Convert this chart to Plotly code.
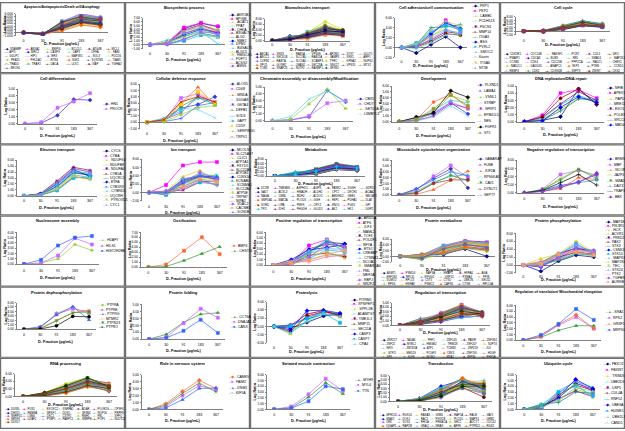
import plotly.graph_objects as go

X_LABELS = ["0", "30", "91", "183", "367"]

# ---------------- data ----------------
P01_GENES = ["STAMBP", "ANXA1", "BNIP3L", "BCL2L1", "ATG4B", "MCL1", "API5", "BIRC2", "CASP9", "DAP3",
             "DFFA", "FAIM", "GULP1", "HIP1", "IER3", "MAP3K5", "NOL3", "PDCD6", "PEA15", "PHLDA1",
             "RTN4", "SGK1", "SQSTM1", "TIAM1", "TRADD", "TRAF2", "UACA", "ULK1", "XIAP", "YWHAZ", "BECN1"]
P01_VALUES = [[0, -0.5, 2.2, 3.0, 2.5], [0, -0.6, 3.5, 6.1, 4.8], [0, -0.4, 2.8, 4.5, 4.0], [0, -0.7, 1.8, 4.0, 3.2],
              [0, -0.3, 3.0, 5.0, 4.2], [0, -0.5, 1.2, 3.5, 2.8], [0, -0.6, 2.5, 4.8, 3.6], [0, -0.8, 1.5, 3.2, 2.2],
              [0, -0.4, 3.2, 5.4, 4.5], [0, -0.5, 2.0, 3.8, 3.0], [0, -0.3, 2.6, 4.2, 3.8], [0, -0.6, 0.8, 2.6, 1.9],
              [0, -0.7, 3.8, 5.8, 5.0], [0, -0.2, 2.3, 4.4, 3.4], [0, -0.5, 1.0, 3.0, 3.1], [0, -0.6, 2.9, 4.9, 4.1],
              [0, -0.4, 1.6, 3.6, 2.6], [0, -0.5, 2.4, 4.6, 3.9], [0, -0.7, 3.3, 5.2, 4.4], [0, -0.3, 1.4, 2.9, 2.3],
              [0, -0.6, 2.7, 4.1, 3.5], [0, -0.5, 0.6, 2.4, 1.7], [0, -0.4, 3.1, 5.6, 4.6], [0, -0.8, 2.1, 3.9, 3.3],
              [0, -0.5, 1.9, 4.3, 3.7], [0, -0.6, 2.5, 4.0, 2.9], [0, -0.3, 1.3, 3.3, 2.7], [0, -0.5, 3.4, 5.1, 4.0],
              [0, -0.6, 1.7, 3.4, 2.4], [0, -0.4, 2.2, 4.7, 4.3], [0, -0.5, 2.0, 3.7, 3.1]]

P02_GENES = ["AKR1B1", "BPGM", "ACAT1", "PPAT", "CHKA", "B3GALT6", "ALG2", "NME1", "DPM1", "B4GALT1",
             "ALG13", "HMGCS1", "FDFT1", "ACSS2", "ASNS"]
P02_VALUES = [[0, 0.3, 4.2, 5.6, 4.7], [0, 0.5, 4.5, 5.7, 4.8], [0, 0.2, 3.3, 5.0, 4.0], [0, 1.2, 2.0, 3.5, 0.2],
              [0, 0.4, 3.8, 5.2, 3.6], [0, 0.3, 2.9, 4.3, 3.2], [0, 0.1, 1.5, 3.0, 2.2], [0, 0.6, 2.5, 4.0, 3.0],
              [0, 0.2, 1.0, 2.5, 2.0], [0, 0.4, 3.5, 4.6, 3.8], [0, 0.3, 2.2, 3.7, 2.6], [0, 0.8, 1.8, 2.8, 1.8],
              [0, 0.2, 3.0, 4.4, 2.4], [0, 0.5, 3.6, 5.1, 3.4], [0, 0.1, 1.3, 3.3, 2.9]]

P03_GENES = ["ABCA1", "SNX3", "RAB5A", "VPS4B", "AP2M1", "STX7", "GLUT1", "ABCC1", "SEC61B", "SLC7A5", "RAB11A",
             "VAMP3", "SNX1", "ARF1", "COPB1", "RAB7A", "SLC3A2", "SCAMP3", "TFRC", "KPNA2", "NUP62", "XPO1",
             "GOSR2", "LMAN2", "SEC23A", "SNX27", "VPS35", "MTX2", "TOM1", "SNAP23", "NUTF2", "RANBP1", "SFXN1"]
P03_VALUES = [[0, 1.6, 2.0, 3.0, 2.8], [0, 0.5, 1.5, 3.5, 3.0], [0, 0.3, 3.0, 7.0, 4.0], [0, 1.0, 2.2, 4.0, 3.3],
              [0, 0.2, 1.2, 2.4, 2.0], [0, 0.8, 1.8, 5.0, 3.6], [0, 0.4, 2.6, 4.4, 3.8], [0, 1.2, 1.0, 2.2, 3.0],
              [0, 0.6, 3.2, 5.5, 3.1], [0, 0.3, 2.0, 3.8, 3.4], [0, 0.9, 1.4, 3.2, 2.5], [0, 0.2, 2.8, 4.8, 3.9],
              [0, 0.7, 1.6, 2.8, 2.2], [0, 0.4, 2.4, 4.2, 3.5], [0, 1.4, 2.1, 3.6, 3.2], [0, 0.1, 0.6, 2.1, 1.6],
              [0, 0.5, 2.9, 4.6, 3.7], [0, 0.8, 1.9, 3.3, 2.9], [0, 0.3, 3.1, 5.8, 3.8], [0, 1.1, 2.3, 3.9, 2.7],
              [0, 0.6, 1.1, 2.6, 2.3], [0, 0.2, 2.5, 4.5, 3.6], [0, 0.9, 1.7, 3.1, 3.0], [0, 0.4, 2.7, 4.1, 3.3],
              [0, 0.7, 1.3, 2.9, 2.4], [0, 1.5, 2.2, 3.4, 2.6], [0, 0.3, 2.0, 4.3, 3.9], [0, 0.5, 1.5, 3.7, 3.1],
              [0, 0.8, 2.6, 5.2, 3.5], [0, 0.2, 1.8, 3.0, 2.1], [0, 1.0, 2.4, 4.7, 3.4], [0, 0.6, 1.2, 2.5, 1.8],
              [0, 0.4, 2.1, 3.6, 3.2]]

P04_GENES = ["PKP1", "PKP2", "LAMB1", "PCDH11X", "FSCN1", "MMP14", "ITGA3", "BSG", "PVRL2", "SMOC2",
             "Kazrin", "ITGA6", "NT5E"]
P04_VALUES = [[0, -1.1, 0.6, 2.2, 0.0], [0, 0.2, 2.5, 5.5, 3.2], [0, 0.5, 2.0, 4.6, 3.5], [0, 0.8, 3.0, 4.8, 4.2],
              [0, 0.3, 1.5, 3.2, 2.8], [0, 0.1, 1.2, 2.8, 2.5], [0, 0.6, 4.0, 4.2, 4.6], [0, 0.4, 2.8, 5.0, 3.8],
              [0, 0.9, 3.3, 4.5, 3.6], [0, -0.2, 1.0, 2.5, 2.9], [0, 0.5, 2.3, 3.8, 2.4], [0, 0.7, 3.5, 5.3, 4.4],
              [0, 0.2, 1.8, 3.5, 3.0]]

P05_GENES = ["CDK5R1", "CDC14B", "RASSF1", "PCNT", "CUL3", "GFI1", "PMAIP1", "CDCA3", "BUB3", "RB1",
             "SMAD4", "MAP2K1", "CCNB1", "CDK4", "CDC25B", "PPP2CA", "RAD21", "CHEK1", "MAD2L1", "GADD45",
             "ANAPC5", "SKP1", "PTEN", "CCND1", "RBBP4", "CDK2", "CDKN1B", "SEPT9", "ZWINT", "CKS2"]
P05_VALUES = [[0, 0.2, 2.0, 4.5, 3.5], [0, -0.3, 1.5, 3.8, 3.0], [0, 0.1, 2.5, 5.0, 4.0], [0, -0.2, 1.0, 3.2, 2.5],
              [0, 0.3, 2.8, 5.5, 3.8], [0, -0.4, 1.8, 4.2, 3.2], [0, 0.0, 3.2, 5.8, 4.2], [0, -0.1, 1.2, 3.5, 2.2],
              [0, 0.2, 2.2, 4.8, 3.6], [0, -0.3, 1.6, 3.0, 2.8], [0, 0.1, 2.6, 4.4, 3.3], [0, -0.2, 0.9, 3.6, 2.6],
              [0, 0.4, 3.0, 5.2, 4.1], [0, -0.1, 1.9, 4.0, 3.0], [0, 0.0, 1.4, 3.3, 2.4], [0, 0.2, 2.4, 4.6, 3.9],
              [0, -0.4, 1.1, 3.1, 2.0], [0, 0.1, 2.9, 5.4, 3.7], [0, -0.2, 1.7, 3.9, 3.4], [0, 0.3, 2.1, 4.1, 2.9],
              [0, -0.1, 1.3, 3.4, 2.7], [0, 0.0, 2.7, 4.9, 3.5], [0, 0.2, 1.5, 3.7, 3.1], [0, -0.3, 2.3, 4.3, 3.8],
              [0, 0.1, 0.8, 3.0, 2.3], [0, -0.2, 2.0, 4.7, 4.0], [0, 0.0, 1.6, 3.5, 2.6], [0, 0.2, 2.5, 5.1, 3.2],
              [0, -0.1, 1.9, 3.8, 2.8], [0, 0.1, 1.2, 3.2, 2.5]]

P06_GENES = ["HN1", "PROCR"]
P06_VALUES = [[0, 0.1, 1.2, 3.5, 3.4], [0, 0.2, 2.3, 3.2, 4.4]]

P07_GENES = ["ALOX5", "CD68", "MNDA", "S100A8", "GSTA4", "DEFB1", "SOD3", "GAPT", "CD59", "SERPING1", "TRPV1"]
P07_VALUES = [[0, 0.3, 2.2, 2.8, 4.0], [0, 0.2, 3.8, 4.5, 3.0], [0, 0.6, 3.0, 5.5, 2.7], [0, 0.7, 2.2, 2.0, 0.7],
              [0, 0.4, 1.5, 4.2, 3.2], [0, 0.2, 2.5, 3.9, 2.8], [0, 0.1, 0.6, 2.6, 3.1], [0, 0.5, 1.8, 3.8, 2.9],
              [0, 0.3, 2.8, 4.8, 3.0], [0, 0.1, 1.2, 2.3, 2.6], [0, 0.4, 3.2, 4.0, 3.2]]

P08_GENES = ["CBX5", "CHD7", "SETD1A", "L3MBTL3"]
P08_VALUES = [[0, 0.1, 0.6, 4.5, 2.8], [0, 0.1, 0.7, 2.6, 3.0], [0, 0.2, 2.5, 4.7, 1.8], [0, 0.6, 3.2, 4.4, 2.8]]

P09_GENES = ["PLXND1", "LAMA4", "VSNL1", "STRBP", "SFRP1", "EPB41L5", "NES", "FGFR1", "ST5"]
P09_VALUES = [[0, 0.6, 1.3, 3.2, 1.3], [0, 0.3, 1.5, 3.3, 2.2], [0, 0.2, 1.6, 4.4, 3.5], [0, 0.1, 0.8, 2.7, 1.0],
              [0, 0.2, 1.0, 3.0, 2.3], [0, 0.3, 3.3, 4.6, 2.4], [0, 0.1, 2.0, 3.6, 3.2], [0, 0.8, 1.5, 5.2, 4.1],
              [0, 0.4, 2.2, 4.5, 2.7]]

P10_GENES = ["NFIB", "APEX1", "PAPD7", "MRE11A", "EXO1", "POLE3", "XRCC6", "MBD4"]
P10_VALUES = [[0, 0.2, 0.7, 4.6, 2.4], [0, 0.9, 4.0, 4.5, 3.3], [0, 0.3, 1.8, 3.3, 2.9], [0, 0.4, 2.4, 3.7, 2.8],
              [0, 0.6, 2.5, 4.2, 3.0], [0, 0.7, 3.3, 4.6, 2.5], [0, 0.2, 1.5, 3.2, 3.1], [0, 0.1, 2.0, 3.5, 2.7]]

P11_GENES = ["CYCS", "CYBA", "NDUFS3", "NDUFB8", "NDUFA4", "CYB5A", "UQCRC1", "ETFA", "CYB5R3", "CYBRD1",
             "UQCRH", "PYROXD1", "CYC1"]
P11_VALUES = [[0, 0.2, 1.5, 4.0, 3.4], [0, 0.3, 2.2, 4.6, 4.0], [0, 0.1, 1.2, 3.5, 3.1], [0, 0.2, 1.8, 4.2, 3.8],
              [0, 0.4, 2.5, 4.8, 4.3], [0, 0.1, 1.0, 3.2, 2.9], [0, 0.2, 1.6, 3.8, 3.6], [0, 0.3, 2.0, 4.4, 3.3],
              [0, 0.1, 0.9, 3.0, 3.2], [0, 0.2, 1.4, 3.6, 3.0], [0, 0.3, 2.3, 4.5, 4.1], [0, 0.1, 1.1, 3.3, 2.7],
              [0, 0.2, 1.9, 4.1, 3.7]]

P12_GENES = ["MCOLN1", "SLC25A37", "CLIC1", "ATP1A1", "FXYD5", "SLC22A3", "ATP2B1", "CLNS1A", "KCNAB2",
             "KCNMA1", "SLC12A2", "ATP5B", "TRPM7", "NIPA2", "VDAC2", "CACNB3", "SCN1B"]
P12_VALUES = [[0, 0.1, 2.8, 4.0, 3.1], [0, 1.8, 6.5, 7.3, 7.3], [0, 0.3, 3.8, 5.3, 2.6], [0, -0.3, 2.2, 3.5, 4.3],
              [0, 0.2, 0.6, 2.5, 2.8], [0, -0.5, 2.5, 3.8, 3.3], [0, 0.0, 1.5, 3.0, 1.8], [0, 0.1, 3.1, 4.1, 3.6],
              [0, -0.6, 1.2, 2.4, 2.0], [0, 0.3, 2.0, 3.2, 2.3], [0, 0.0, 2.7, 4.4, 4.0], [0, 0.2, 1.8, 3.6, 2.9],
              [0, -0.2, 3.3, 4.0, 3.0], [0, 0.1, 1.0, 2.8, 1.7], [0, 0.4, 2.4, 4.8, 3.4], [0, -0.1, 1.4, 3.3, 2.5],
              [0, 0.0, 2.2, 3.9, 3.8]]

P13_GENES = ["DCXR", "TMEM68", "ASPHD1", "AGPS", "PANK2", "SGSH", "GDPD1", "GALT", "ACSL3", "HIBADH", "ALDH2",
             "CPT2", "DECR1", "ACAA2", "NAGA", "CMBL", "MDH2", "ALDOC", "AMDHD2", "GBE1", "MBOAT1", "GNPDA1",
             "MAT2A", "PLOD3", "GGH", "FBP1", "PDHA1", "DLAT", "SORD", "LIPA", "PMVK", "CRYZ", "ENO1", "PGK1",
             "GPI", "TPI1", "IDH1", "PHGDH", "GLUD1", "AK2", "HK1", "UGP2"]
P13_VALUES = [[0, 0.5, 1.8, 4.5, 3.2], [0, 1.2, 2.5, 5.2, 3.8], [0, 0.3, 1.0, 3.5, 3.0], [0, 0.8, 2.8, 5.8, 4.2],
              [0, 0.2, 1.5, 4.0, 2.8], [0, 1.5, 2.2, 4.8, 3.5], [0, 0.4, 3.2, 5.5, 4.0], [0, 0.9, 1.2, 3.2, 2.6],
              [0, 0.1, 2.0, 4.2, 3.3], [0, 2.0, 2.6, 4.6, 3.9], [0, 0.6, 1.6, 3.8, 3.1], [0, 0.3, 3.5, 6.0, 4.5],
              [0, 1.1, 2.3, 4.4, 3.6], [0, 0.2, 0.8, 3.0, 2.5], [0, 0.7, 1.9, 5.0, 3.4], [0, 1.6, 2.9, 5.3, 4.1],
              [0, 0.4, 1.4, 3.6, 2.9], [0, 0.9, 2.4, 4.3, 3.7], [0, 0.2, 3.0, 5.6, 3.8], [0, 1.3, 1.7, 3.9, 3.2],
              [0, 0.5, 2.1, 4.7, 4.3], [0, 0.8, 1.1, 3.3, 2.7], [0, 0.1, 2.7, 5.1, 3.6], [0, 1.8, 2.2, 4.1, 3.0],
              [0, 0.6, 3.3, 5.4, 4.4], [0, 0.3, 1.3, 3.4, 3.1], [0, 1.0, 2.6, 4.9, 3.5], [0, 0.4, 1.8, 4.0, 2.8],
              [0, 1.4, 2.0, 3.7, 3.3], [0, 0.2, 3.1, 5.7, 4.0], [0, 0.7, 1.5, 3.9, 3.4], [0, 1.1, 2.4, 4.5, 3.9],
              [0, 0.3, 0.9, 3.1, 2.6], [0, 0.9, 2.8, 5.2, 4.2], [0, 0.5, 1.6, 3.5, 3.0], [0, 1.7, 2.5, 4.2, 3.7],
              [0, 0.2, 2.2, 4.8, 3.3], [0, 0.6, 1.2, 3.6, 2.9], [0, 1.2, 3.4, 5.9, 4.6], [0, 0.4, 1.9, 4.1, 3.2],
              [0, 0.8, 2.3, 4.6, 3.8], [0, 0.1, 1.0, 3.2, 2.7]]

P14_GENES = ["GABARAP", "FLNB", "KIF2A", "RPS6KA3", "CAV1", "DYNLT1", "SEPT7"]
P14_VALUES = [[0, 1.0, 2.9, 4.5, 1.2], [0, 0.8, 3.2, 5.1, 3.0], [0, 0.1, 0.9, 2.5, 4.1], [0, 0.6, 2.2, 3.2, 3.5],
              [0, 0.4, 2.0, 3.4, 2.5], [0, 0.3, 2.0, 2.6, 2.6], [0, 1.0, 2.6, 4.0, 3.3]]

P15_GENES = ["BRMS1", "MBP", "NCOR2", "JAZF1", "SMAD7", "DAXX", "TRAF3", "BBX"]
P15_VALUES = [[0, 0.6, 1.8, 2.6, 4.8], [0, 0.9, 4.5, 5.5, 4.3], [0, 0.4, 1.0, 3.7, 3.3], [0, 0.7, 3.6, 5.7, 4.0],
              [0, 0.8, 3.2, 5.8, 3.5], [0, 0.5, 1.5, 2.5, 3.2], [0, 0.6, 2.5, 4.5, 1.9], [0, 0.3, 1.3, 2.7, 4.5]]

P16_GENES = ["H2AFY", "HILS1", "HIST2H2BE"]
P16_VALUES = [[0, 0.2, 1.0, 3.7, 2.6], [0, 0.2, 1.6, 4.9, 3.7], [0, 0.8, 3.5, 5.0, 5.3]]

P17_GENES = ["BMP4", "CHST11"]
P17_VALUES = [[0, 0.5, 3.3, 6.0, 2.6], [0, 0.1, 1.3, 2.7, 4.1]]

P18_GENES = ["ARID1A", "ATF6", "ILF3", "MAML2", "TCF4", "POU2F1", "NFYA", "ETS1", "CREBBP", "CTNNB1",
             "NCOA1", "SMARCA4", "PML", "MEF2A", "RBPJ", "NR2F2"]
P18_VALUES = [[0, 0.5, 2.5, 4.2, 3.9], [0, 0.3, 3.6, 4.7, 3.0], [0, 0.8, 1.5, 3.5, 3.3], [0, 0.2, 2.0, 4.3, 2.6],
              [0, 0.6, 3.0, 3.8, 3.5], [0, 0.1, 1.8, 2.2, 1.5], [0, 0.4, 2.3, 4.5, 3.1], [0, 1.0, 2.8, 3.2, 3.8],
              [0, 0.3, 1.2, 2.8, 2.4], [0, 0.5, 2.6, 4.7, 2.2], [0, 0.2, 1.0, 1.8, 1.9], [0, 0.7, 1.6, 2.5, 1.2],
              [0, 0.4, 2.1, 3.0, 2.9], [0, 0.6, 0.6, 1.5, 1.8], [0, 0.1, 1.4, 3.9, 3.4], [0, 0.3, 0.9, 2.0, 2.7]]

P19_GENES = ["ASMTL", "PSMD4", "NAPSA", "ERAP1", "HSPA4", "AGA", "EEF1B2", "RPL3L", "EIF4G2", "USP14",
             "PSMA3", "PPIB", "SUMO2", "RPL13", "CST3", "CTSD", "UBE2N", "SEC62", "RPS6", "HSPA8",
             "PSMC2", "CAPN1", "CTSB", "RPL10A"]
P19_VALUES = [[0, 0.3, 1.0, 2.6, 0.0], [0, 0.5, 3.8, 5.6, 4.9], [0, -0.8, 2.5, 4.6, 3.2], [0, 0.8, 2.0, 4.0, 3.8],
              [0, -0.3, 3.2, 5.3, 5.0], [0, 0.2, 1.5, 3.5, 2.6], [0, -1.0, 2.8, 4.8, 4.0], [0, 0.6, 0.6, 3.0, 2.2],
              [0, -0.5, 3.6, 5.1, 4.5], [0, 0.1, 1.8, 4.2, 3.1], [0, -1.2, 2.2, 3.8, 3.6], [0, 0.4, 3.0, 5.0, 4.2],
              [0, -0.2, 1.2, 3.3, 2.0], [0, 0.7, 2.6, 4.4, 3.4], [0, -0.7, 3.4, 5.4, 4.7], [0, 0.3, 1.6, 3.6, 2.9],
              [0, -0.4, 2.4, 4.1, 3.3], [0, 0.5, 3.9, 5.2, 4.4], [0, -0.9, 0.9, 2.8, 1.8], [0, 0.2, 2.1, 4.5, 3.7],
              [0, -0.1, 2.9, 4.9, 3.9], [0, 0.6, 1.4, 3.2, 2.4], [0, -0.6, 2.7, 4.3, 3.0], [0, 0.3, 3.3, 5.5, 4.6]]

P20_GENES = ["MAP4K4", "PIK3R1", "HCK", "ACVR1", "PRKD2", "PAK2", "STK3", "CSNK1D", "STK10", "MAPK3",
             "MAP2K4", "TEC", "STK24", "PTK2", "TGFBR1", "AURKB"]
P20_VALUES = [[0, -1.6, 1.0, 2.5, 2.0], [0, 0.2, 2.5, 4.5, 3.0], [0, 1.6, 2.8, 6.0, 3.2], [0, 0.4, 1.5, 3.5, 2.4],
              [0, -0.3, 2.0, 3.2, 2.8], [0, 0.6, 2.9, 4.2, 3.6], [0, 0.1, 1.2, 2.8, 2.6], [0, -0.5, 1.8, 4.0, 3.3],
              [0, 0.3, 2.4, 5.2, 3.0], [0, 0.8, 3.0, 4.8, 3.5], [0, -0.2, 1.4, 3.0, 2.2], [0, 0.5, 2.2, 3.8, 3.4],
              [0, 0.0, 2.6, 5.5, 2.9], [0, 0.9, 1.6, 3.6, 3.1], [0, -0.4, 2.1, 4.4, 3.7], [0, 0.2, 2.7, 3.3, 2.5]]

P21_GENES = ["PTPRA", "PTPRE", "PTPRG", "MTMR2", "PTPN23", "PTPRO"]
P21_VALUES = [[0, 0.3, 3.6, 4.9, 3.4], [0, 0.4, 3.4, 4.6, 3.9], [0, 0.6, 3.2, 5.1, 2.1], [0, 0.2, 2.0, 3.7, 4.3],
              [0, 0.1, 1.9, 3.7, 3.9], [0, 0.05, 0.8, 2.9, 2.8]]

P22_GENES = ["CCT6A", "DNAJA1", "CANX"]
P22_VALUES = [[0, 0.7, 2.4, 3.6, 3.8], [0, 0.3, 2.3, 4.4, 3.1], [0, 0.2, 1.2, 2.8, 0.9]]

P23_GENES = ["PITRM1", "XPNPEP1", "SPPL2B", "ADAMTS7", "YME1L1", "MMP15", "SEC11A", "CASP3", "CASP7", "CPA4"]
P23_VALUES = [[0, -0.4, 1.0, 2.5, 3.0], [0, 0.3, 2.2, 3.4, 2.8], [0, -1.8, 2.8, 4.1, 2.2], [0, -1.5, 1.5, 3.5, 3.1],
              [0, 0.2, 3.0, 3.8, 2.5], [0, -1.2, 2.5, 3.6, 2.9], [0, 0.4, 1.8, 2.9, 2.6], [0, -0.8, 3.8, 3.9, 3.2],
              [0, 0.1, 2.0, 3.3, 0.9], [0, -1.6, 1.2, 3.0, 2.4]]

P24_GENES = ["ZNF217", "TADA3", "PHF1", "ZNF143", "PAWR", "ZNF384", "ZNF22", "MYBL2", "HMGB2", "TRIM28",
             "ZNF207", "SUPT4", "NFIX", "ZBTB7A", "ATF1", "TCEB3", "ZNF259", "ID2", "GTF2I", "MED19",
             "PCGF3", "CBX3", "ZNF706", "HDGF", "SP3", "KLF6", "NONO", "MTA2", "ZFP36", "PHF5A"]
P24_VALUES = [[0, 0.5, 1.5, 3.8, 2.5], [0, 0.8, 2.5, 4.5, 2.8], [0, 0.3, 1.0, 2.5, 2.2], [0, 1.2, 1.8, 3.2, 3.0],
              [0, 0.4, 2.8, 4.2, 2.4], [0, 0.6, 1.2, 2.0, 2.6], [0, 1.5, 2.0, 3.5, 2.2], [0, 0.2, 0.8, 1.8, 2.0],
              [0, 0.9, 2.2, 4.0, 2.7], [0, 0.5, 1.6, 3.0, 2.9], [0, 0.3, 2.4, 4.4, 2.3], [0, 1.0, 1.3, 2.4, 2.5],
              [0, 0.7, 2.0, 3.6, 2.8], [0, 0.4, 0.9, 2.2, 1.8], [0, 1.3, 2.6, 4.1, 2.6], [0, 0.6, 1.4, 2.8, 2.4],
              [0, 0.2, 2.1, 3.7, 3.0], [0, 0.8, 1.1, 1.6, 2.1], [0, 1.1, 2.3, 3.9, 2.5], [0, 0.5, 1.7, 3.3, 2.7],
              [0, 0.3, 2.7, 4.6, 2.2], [0, 0.9, 1.5, 2.6, 2.9], [0, 0.4, 1.9, 3.4, 2.3], [0, 1.4, 2.2, 3.0, 2.0],
              [0, 0.6, 1.0, 2.3, 2.6], [0, 0.2, 2.5, 4.3, 2.8], [0, 0.7, 1.8, 3.1, 2.4], [0, 1.0, 2.0, 3.8, 2.9],
              [0, 0.3, 1.2, 2.7, 2.1], [0, 0.8, 2.4, 4.0, 2.5]]

P25_GENES = ["SRA1", "RPS2", "GRSF1", "MRPS12"]
P25_VALUES = [[0, 0.5, 1.7, 2.5, 2.5], [0, 0.7, 2.6, 4.0, 2.0], [0, 0.6, 2.7, 4.4, 2.0], [0, 0.9, 2.8, 5.4, 3.5]]

P26_GENES = ["DUS3L", "PUS1", "EXOSC2", "SNRPA1", "ADAR", "POLR2G", "CPSF6", "DHX15", "RBM8A", "SRSF1",
             "DDX5", "SF3B4", "NOP56", "PRPF8", "SNRPD1", "LSM4", "DKC1", "CSTF2", "RNH1", "FBL", "SFPQ",
             "SRSF3", "U2AF2", "PTBP1", "PABPC1", "SNRPB", "POP1", "NUDT21", "DDX17"]
P26_VALUES = [[0, 0.5, 2.0, 4.0, 3.0], [0, 0.3, 1.5, 3.2, 2.5], [0, 1.0, 3.4, 5.0, 2.0], [0, 0.2, 1.0, 2.6, 2.8],
              [0, 0.7, 2.5, 4.5, 3.5], [0, 0.4, 1.8, 3.6, 2.2], [0, 0.9, 2.9, 4.8, 3.0], [0, 0.1, 1.2, 3.0, 1.4],
              [0, 0.6, 2.2, 4.2, 2.6], [0, 0.3, 1.4, 2.8, 2.3], [0, 0.8, 3.1, 5.0, 2.9], [0, 0.2, 0.9, 2.5, 1.8],
              [0, 0.5, 2.0, 3.8, 2.4], [0, 1.0, 2.7, 4.4, 2.1], [0, 0.4, 1.6, 3.4, 2.7], [0, 0.7, 2.4, 4.6, 3.1],
              [0, 0.2, 1.1, 2.7, 1.6], [0, 0.6, 1.9, 3.9, 2.5], [0, 0.9, 3.0, 4.7, 2.8], [0, 0.3, 1.3, 3.1, 2.2],
              [0, 0.5, 2.3, 4.1, 3.3], [0, 0.1, 0.9, 2.6, 1.5], [0, 0.8, 2.6, 4.3, 2.4], [0, 0.4, 1.7, 3.5, 2.0],
              [0, 0.6, 2.1, 4.0, 2.9], [0, 0.2, 1.5, 3.3, 1.9], [0, 1.0, 2.8, 4.9, 2.6], [0, 0.3, 1.2, 2.9, 2.1],
              [0, 0.7, 2.0, 3.7, 2.7]]

P27_GENES = ["CAMKV", "FAIM2", "DNM1", "KIF1A"]
P27_VALUES = [[0, 0.8, 2.6, 4.2, 3.0], [0, 0.4, 2.0, 3.4, 2.8], [0, 0.2, 1.4, 3.0, 3.1], [0, 0.6, 2.3, 3.8, 2.5]]

P28_GENES = ["MYH9", "MYL6", "TTN"]
P28_VALUES = [[0, 0.3, 2.1, 4.6, 2.7], [0, 0.5, 2.6, 5.3, 3.2], [0, 0.2, 1.4, 4.0, 3.5]]

P29_GENES = ["GPR153", "RGS10", "RASA3", "GNB1", "RAP1A", "RALB", "VAV1", "GNAI2", "DOK1", "RAC1",
             "PIK3CB", "PLCG1", "MAPK1", "GRB2", "CRK", "SOS1", "RHOA", "PRKACA", "SHC1", "ADCY7", "CDC42",
             "IQGAP1", "RAP2B", "GNAQ", "NRAS", "ARF6", "PTPN11", "RGS2"]
P29_VALUES = [[0, 0.2, 1.5, 4.5, 3.5], [0, 0.4, 2.5, 5.2, 3.0], [0, 0.1, 1.0, 3.5, 4.6], [0, 0.6, 3.0, 5.5, 2.5],
              [0, 0.3, 1.8, 4.0, 3.8], [0, 0.5, 2.2, 3.2, 1.0], [0, 0.2, 1.2, 4.8, 4.0], [0, 0.7, 3.5, 5.0, 2.8],
              [0, 0.1, 1.6, 3.8, 3.2], [0, 0.4, 2.0, 4.3, 4.9], [0, 0.3, 2.8, 5.3, 3.3], [0, 0.6, 1.4, 3.0, 2.2],
              [0, 0.2, 1.9, 4.6, 3.6], [0, 0.5, 2.6, 4.1, 2.6], [0, 0.1, 0.9, 3.3, 3.0], [0, 0.4, 2.3, 5.1, 4.2],
              [0, 0.3, 1.7, 3.6, 2.0], [0, 0.6, 3.2, 4.9, 3.7], [0, 0.2, 1.3, 4.2, 3.1], [0, 0.5, 2.1, 3.4, 2.4],
              [0, 0.1, 1.1, 3.9, 4.4], [0, 0.4, 2.7, 5.4, 3.4], [0, 0.3, 1.5, 3.1, 1.8], [0, 0.7, 2.4, 4.4, 3.9],
              [0, 0.2, 1.8, 4.7, 2.9], [0, 0.5, 3.0, 3.7, 2.3], [0, 0.1, 1.2, 3.5, 3.6], [0, 0.4, 2.2, 4.0, 4.1]]

P30_GENES = ["FBXO2", "FBXW7", "TRIM26", "UBE2D3", "USP5", "CUL4A", "RNF14", "UBE3A", "HUWE1", "UBE2L3", "CAND1"]
P30_VALUES = [[0, 0.5, 2.0, 4.5, 3.5], [0, 0.3, 2.8, 5.0, 3.0], [0, 0.8, 1.5, 3.5, 2.5], [0, 0.2, 3.2, 4.8, 3.8],
              [0, 0.6, 1.8, 3.2, 2.2], [0, 0.4, 2.5, 4.2, 3.3], [0, 0.9, 1.2, 3.0, 2.8], [0, 0.2, 2.2, 5.2, 3.6],
              [0, 0.7, 3.0, 4.0, 2.4], [0, 0.3, 1.6, 3.8, 3.1], [0, 0.5, 2.4, 4.4, 2.0]]

TITLES = ["Apoptosis/Antiapoptosis/Death cell/Autophagy", "Biosynthetic process", "Biomolecules transport",
          "Cell adhesion/cell communication", "Cell cycle",
          "Cell differentiation", "Cellular defense response", "Chromatin assembly or disassembly/Modification",
          "Development", "DNA replication/DNA repair",
          "Electron transport", "Ion transport", "Metabolism", "Microtubule cytoskeleton organization",
          "Negative regulation of transcription",
          "Nucleosome assembly", "Ossification", "Positive regulation of transcription", "Protein metabolism",
          "Protein phosphorylation",
          "Protein dephosphorylation", "Protein folding", "Proteolysis", "Regulation of transcription",
          "Regulation of translation/ Mitochondrial elongation",
          "RNA processing", "Role in nervous system", "Striated muscle contraction", "Transduction", "Ubiquitin cycle"]

GENES = [P01_GENES, P02_GENES, P03_GENES, P04_GENES, P05_GENES, P06_GENES, P07_GENES, P08_GENES, P09_GENES,
         P10_GENES, P11_GENES, P12_GENES, P13_GENES, P14_GENES, P15_GENES, P16_GENES, P17_GENES, P18_GENES,
         P19_GENES, P20_GENES, P21_GENES, P22_GENES, P23_GENES, P24_GENES, P25_GENES, P26_GENES, P27_GENES,
         P28_GENES, P29_GENES, P30_GENES]
VALUES = [P01_VALUES, P02_VALUES, P03_VALUES, P04_VALUES, P05_VALUES, P06_VALUES, P07_VALUES, P08_VALUES,
          P09_VALUES, P10_VALUES, P11_VALUES, P12_VALUES, P13_VALUES, P14_VALUES, P15_VALUES, P16_VALUES,
          P17_VALUES, P18_VALUES, P19_VALUES, P20_VALUES, P21_VALUES, P22_VALUES, P23_VALUES, P24_VALUES,
          P25_VALUES, P26_VALUES, P27_VALUES, P28_VALUES, P29_VALUES, P30_VALUES]

# y axis scale per panel: (min, max, step)
Y_SCALES = [(-1, 6, 1), (-1, 7, 1), (0, 8, 2), (-2, 6, 2), (-2, 8, 2),
            (0, 5, 1), (-1, 6, 1), (0, 5, 1), (0, 6, 1), (0, 5, 1),
            (0, 6, 1), (-2, 8, 2), (0, 8, 2), (0, 6, 1), (0, 8, 2),
            (0, 6, 1), (0, 7, 1), (0, 6, 1), (-2, 6, 2), (-2, 8, 2),
            (0, 6, 1), (0, 5, 1), (-4, 6, 2), (0, 5, 1), (0, 6, 1),
            (0, 6, 2), (0, 5, 1), (0, 6, 1), (0, 6, 1), (0, 6, 1)]

# ---------------- styles / layout ----------------
PALETTE = ['#000080', '#FF00FF', '#D6D600', '#00D8D8', '#800080', '#800000', '#008080', '#0000FF',
           '#00B8F0', '#66CCCC', '#66BB66', '#CCCC66', '#6699FF', '#FF6699', '#9966FF', '#FF9966',
           '#3366FF', '#33CCCC', '#99CC00', '#FFCC00', '#FF9900', '#FF6600', '#666699', '#969696',
           '#003366', '#339966', '#003300', '#333300', '#993300', '#993366', '#333399', '#333333']
SYMS = ['diamond', 'square', 'triangle-up', 'x-thin-open', 'asterisk-open', 'circle', 'cross-thin-open']
GLYPH = {'diamond': '◆', 'square': '■', 'triangle-up': '▲', 'x-thin-open': '×',
         'asterisk-open': '✱', 'circle': '●', 'cross-thin-open': '+'}
CUSTOM_COLORS = {
    5: ['#3333CC', '#CC66FF'],
    6: ['#3333CC', '#CC66FF', '#FF6633', '#66CCFF', '#9933CC', '#339933', '#3366FF', '#33CCCC', '#FFCC00',
        '#99CC33', '#CC0000'],
    7: ['#3333CC', '#CC66FF', '#99CC33', '#55DDEE'],
    8: ['#3333CC', '#CC66FF', '#99CC33', '#66CCFF', '#9933CC', '#FF6633', '#33CCCC', '#000000', '#999933'],
    13: ['#333399', '#CC66FF', '#FF6633', '#33CCCC', '#339933', '#993333', '#3366FF'],
    14: ['#3333CC', '#CC66FF', '#FF6633', '#99CC33', '#339933', '#3399CC', '#000000', '#9933CC'],
    15: ['#99CC33', '#CC66FF', '#3366FF'],
    16: ['#FF6633', '#339933'],
    20: ['#99CC33', '#CC66FF', '#3366FF', '#FF6633', '#339933', '#000000'],
    21: ['#339933', '#CC66FF', '#3366FF'],
    24: ['#339933', '#CC66FF', '#FF6633', '#3366FF'],
    26: ['#FF6633', '#CC66FF', '#3366FF', '#339933'],
    27: ['#339933', '#CC66FF', '#3366FF'],
}
CUSTOM_SYMS = {15: ['triangle-up', 'square', 'square'], 16: ['square', 'triangle-up'],
               21: ['triangle-up', 'square', 'square'], 24: ['triangle-up', 'square', 'circle', 'square'],
               27: ['triangle-up', 'square', 'square']}
TITLE_SIZES = {0: 3.4, 7: 4.2, 24: 3.6}

# per panel: plot box (x0, x1, y0, y1) in px inside the panel, x-label y, x-title y, legend spec
LAYOUTS = [
    dict(box=(16, 108, 12, 34), xl=38, xt=42, leg=('b', 6, 2, 20.5, 47, 3.9)),
    dict(box=(18, 100, 16, 47), xl=52, xt=59, leg=('r', 102, 13, 3.7)),
    dict(box=(15, 100, 17, 39), xl=43, xt=48, leg=('b', 7, 2, 17.3, 52, 3.7)),
    dict(box=(20, 92, 16, 56), xl=60, xt=65, leg=('r', 95, 4, 5.2)),
    dict(box=(16, 110, 15, 33), xl=38, xt=43, leg=('b', 6, 2, 20.5, 52, 4.3)),
    dict(box=(18, 97, 16, 51), xl=56, xt=63, leg=('r', 101, 31, 5)),
    dict(box=(15, 97, 11, 56), xl=61, xt=68, leg=('r', 102, 11, 5.3)),
    dict(box=(15, 103, 14, 48), xl=56, xt=64, leg=('r', 105, 26, 5)),
    dict(box=(17, 100, 13, 49), xl=56, xt=63, leg=('r', 100, 12, 6.1)),
    dict(box=(17, 104, 13, 49), xl=56, xt=62, leg=('r', 105, 15, 5.4)),
    dict(box=(17, 97, 16, 52), xl=57, xt=64, leg=('r', 101, 7, 4.5)),
    dict(box=(17, 99, 15, 57), xl=62, xt=69, leg=('r', 102, 6, 3.9)),
    dict(box=(17, 115, 15, 32), xl=36, xt=40, leg=('b', 7, 3, 17.5, 44, 4.2)),
    dict(box=(17, 100, 16, 51), xl=57, xt=64, leg=('r', 100, 15, 6)),
    dict(box=(17, 104, 16, 49), xl=55, xt=63, leg=('r', 105, 15, 5.4)),
    dict(box=(17, 99, 17, 49), xl=55, xt=63, leg=('r', 97, 25, 5.5)),
    dict(box=(16, 102, 17, 52), xl=57, xt=64, leg=('r', 104, 31, 5)),
    dict(box=(16, 102, 17, 50), xl=56, xt=64, leg=('r', 104, 3, 4.4)),
    dict(box=(17, 120, 24, 47), xl=50, xt=55, leg=('b', 6, 4, 19, 58.5, 3.4)),
    dict(box=(16, 101, 18, 58), xl=61, xt=65, leg=('r', 103, 7, 4)),
    dict(box=(17, 96, 16, 43), xl=48, xt=56, leg=('r', 97, 19, 4.4)),
    dict(box=(17, 100, 18, 53), xl=58, xt=65, leg=('r', 104, 30.5, 5)),
    dict(box=(17, 97, 15, 57), xl=61, xt=66, leg=('r', 99, 13, 5)),
    dict(box=(17, 115, 16, 39), xl=43, xt=47, leg=('b', 6, 4, 20, 54, 4.2)),
    dict(box=(16, 101, 19, 54), xl=59, xt=66, leg=('r', 104, 26, 5.8)),
    dict(box=(15, 117, 16, 39), xl=44, xt=48, leg=('b', 7, 3, 17.4, 52, 3.3)),
    dict(box=(17, 98, 17, 52), xl=57, xt=64, leg=('r', 102, 19, 5.5)),
    dict(box=(17, 100, 17, 52), xl=57, xt=64, leg=('r', 103, 22, 5.5)),
    dict(box=(15, 117, 18, 44), xl=49, xt=53, leg=('b', 7, 3, 16.8, 58, 3.5)),
    dict(box=(17, 100, 17, 52), xl=57, xt=64, leg=('r', 102, 6, 6)),
]

W, H = 625, 431
COLW = W / 5
ROWH = H / 6
FONT = "Liberation Sans, Arial, sans-serif"

fig = go.Figure()
layout = dict(width=W, height=H, margin=dict(l=0, r=0, t=0, b=0), showlegend=False,
              paper_bgcolor='white', plot_bgcolor='white', font=dict(family=FONT, color='black'))
annotations = []
shapes = []


def px(x):
    return x / W


def py(y):
    return 1 - y / H


for k in range(30):
    r, c = divmod(k, 5)
    bx, by = c * COLW, r * ROWH
    L = LAYOUTS[k]
    x0, x1, y0, y1 = L['box']
    ymin, ymax, step = Y_SCALES[k]
    sfx = '' if k == 0 else str(k + 1)
    fmt = '.3f' if k == 0 else '.2f'
    layout['xaxis' + sfx] = dict(
        domain=[px(bx + x0), px(bx + x1)], anchor='y' + sfx, type='category',
        categoryorder='array', categoryarray=X_LABELS,
        showgrid=False, zeroline=False, showline=(ymin == 0), linecolor='#808080', linewidth=0.6,
        ticks='outside', ticklen=max(0, L['xl'] - y1 - 3.5), tickcolor='rgba(0,0,0,0)',
        tickfont=dict(size=3.6), fixedrange=True)
    layout['yaxis' + sfx] = dict(
        domain=[py(by + y1), py(by + y0)], anchor='x' + sfx, range=[ymin, ymax],
        tick0=ymin, dtick=step, tickformat=fmt, showgrid=False,
        showline=True, linecolor='#808080', linewidth=0.6,
        ticks='outside', ticklen=1.5, tickwidth=0.5, tickcolor='#808080',
        zeroline=(ymin < 0), zerolinecolor='#808080', zerolinewidth=0.6,
        tickfont=dict(size=3.4), fixedrange=True)

    cols = CUSTOM_COLORS.get(k)
    syms = CUSTOM_SYMS.get(k)
    genes = GENES[k]
    entries = []
    for i, (g, vals) in enumerate(zip(genes, VALUES[k])):
        col = cols[i % len(cols)] if cols else PALETTE[i % len(PALETTE)]
        sym = syms[i] if syms else SYMS[i % len(SYMS)]
        fig.add_trace(go.Scatter(
            x=X_LABELS, y=vals, mode='lines+markers', xaxis='x' + sfx, yaxis='y' + sfx,
            line=dict(color=col, width=0.7),
            marker=dict(symbol=sym, size=3, color=col, line=dict(color=col, width=0.6)),
            name=g, hoverinfo='skip'))
        entries.append((g, col, sym))

    # panel border
    shapes.append(dict(type='rect', xref='paper', yref='paper',
                       x0=px(bx + 0.6), x1=px(bx + COLW - 0.6), y0=py(by + ROWH - 0.6), y1=py(by + 0.6),
                       line=dict(color='#6f6f6f', width=1.2), layer='below'))
    # title
    annotations.append(dict(text='<b>%s</b>' % TITLES[k], xref='paper', yref='paper',
                            x=px(bx + (x0 + x1) / 2), y=py(by + 5.5), xanchor='center', yanchor='middle',
                            showarrow=False, font=dict(size=TITLE_SIZES.get(k, 4.0), family=FONT)))
    # axis titles
    annotations.append(dict(text='<b>D- Fraction (µg/mL)</b>', xref='paper', yref='paper',
                            x=px(bx + (x0 + x1) / 2), y=py(by + L['xt']), xanchor='center', yanchor='middle',
                            showarrow=False, font=dict(size=3.8, family=FONT)))
    annotations.append(dict(text='<b>Log Ratio</b>', xref='paper', yref='paper', textangle=-90,
                            x=px(bx + max(4, x0 - 11.5)), y=py(by + (y0 + y1) / 2), xanchor='center',
                            yanchor='middle', showarrow=False, font=dict(size=3.8, family=FONT)))
    # legend entries
    leg = L['leg']
    for i, (g, col, sym) in enumerate(entries):
        if leg[0] == 'r':
            lx, ly = leg[1], leg[2] + i * leg[3]
            fs = 3.5
        else:
            ncol = leg[1]
            lx = leg[2] + (i % ncol) * leg[3]
            ly = leg[4] + (i // ncol) * leg[5]
            fs = 2.8
        annotations.append(dict(
            text='<span style="color:%s">–%s–</span> %s' % (col, GLYPH[sym], g),
            xref='paper', yref='paper', x=px(bx + lx), y=py(by + ly), xanchor='left', yanchor='middle',
            showarrow=False, font=dict(size=fs, family=FONT)))

layout['annotations'] = annotations
layout['shapes'] = shapes
fig.update_layout(**layout)
fig.write_html("out.html", config={'displayModeBar': False},
               post_script="document.body.style.margin='0px';document.body.style.overflow='hidden';")
